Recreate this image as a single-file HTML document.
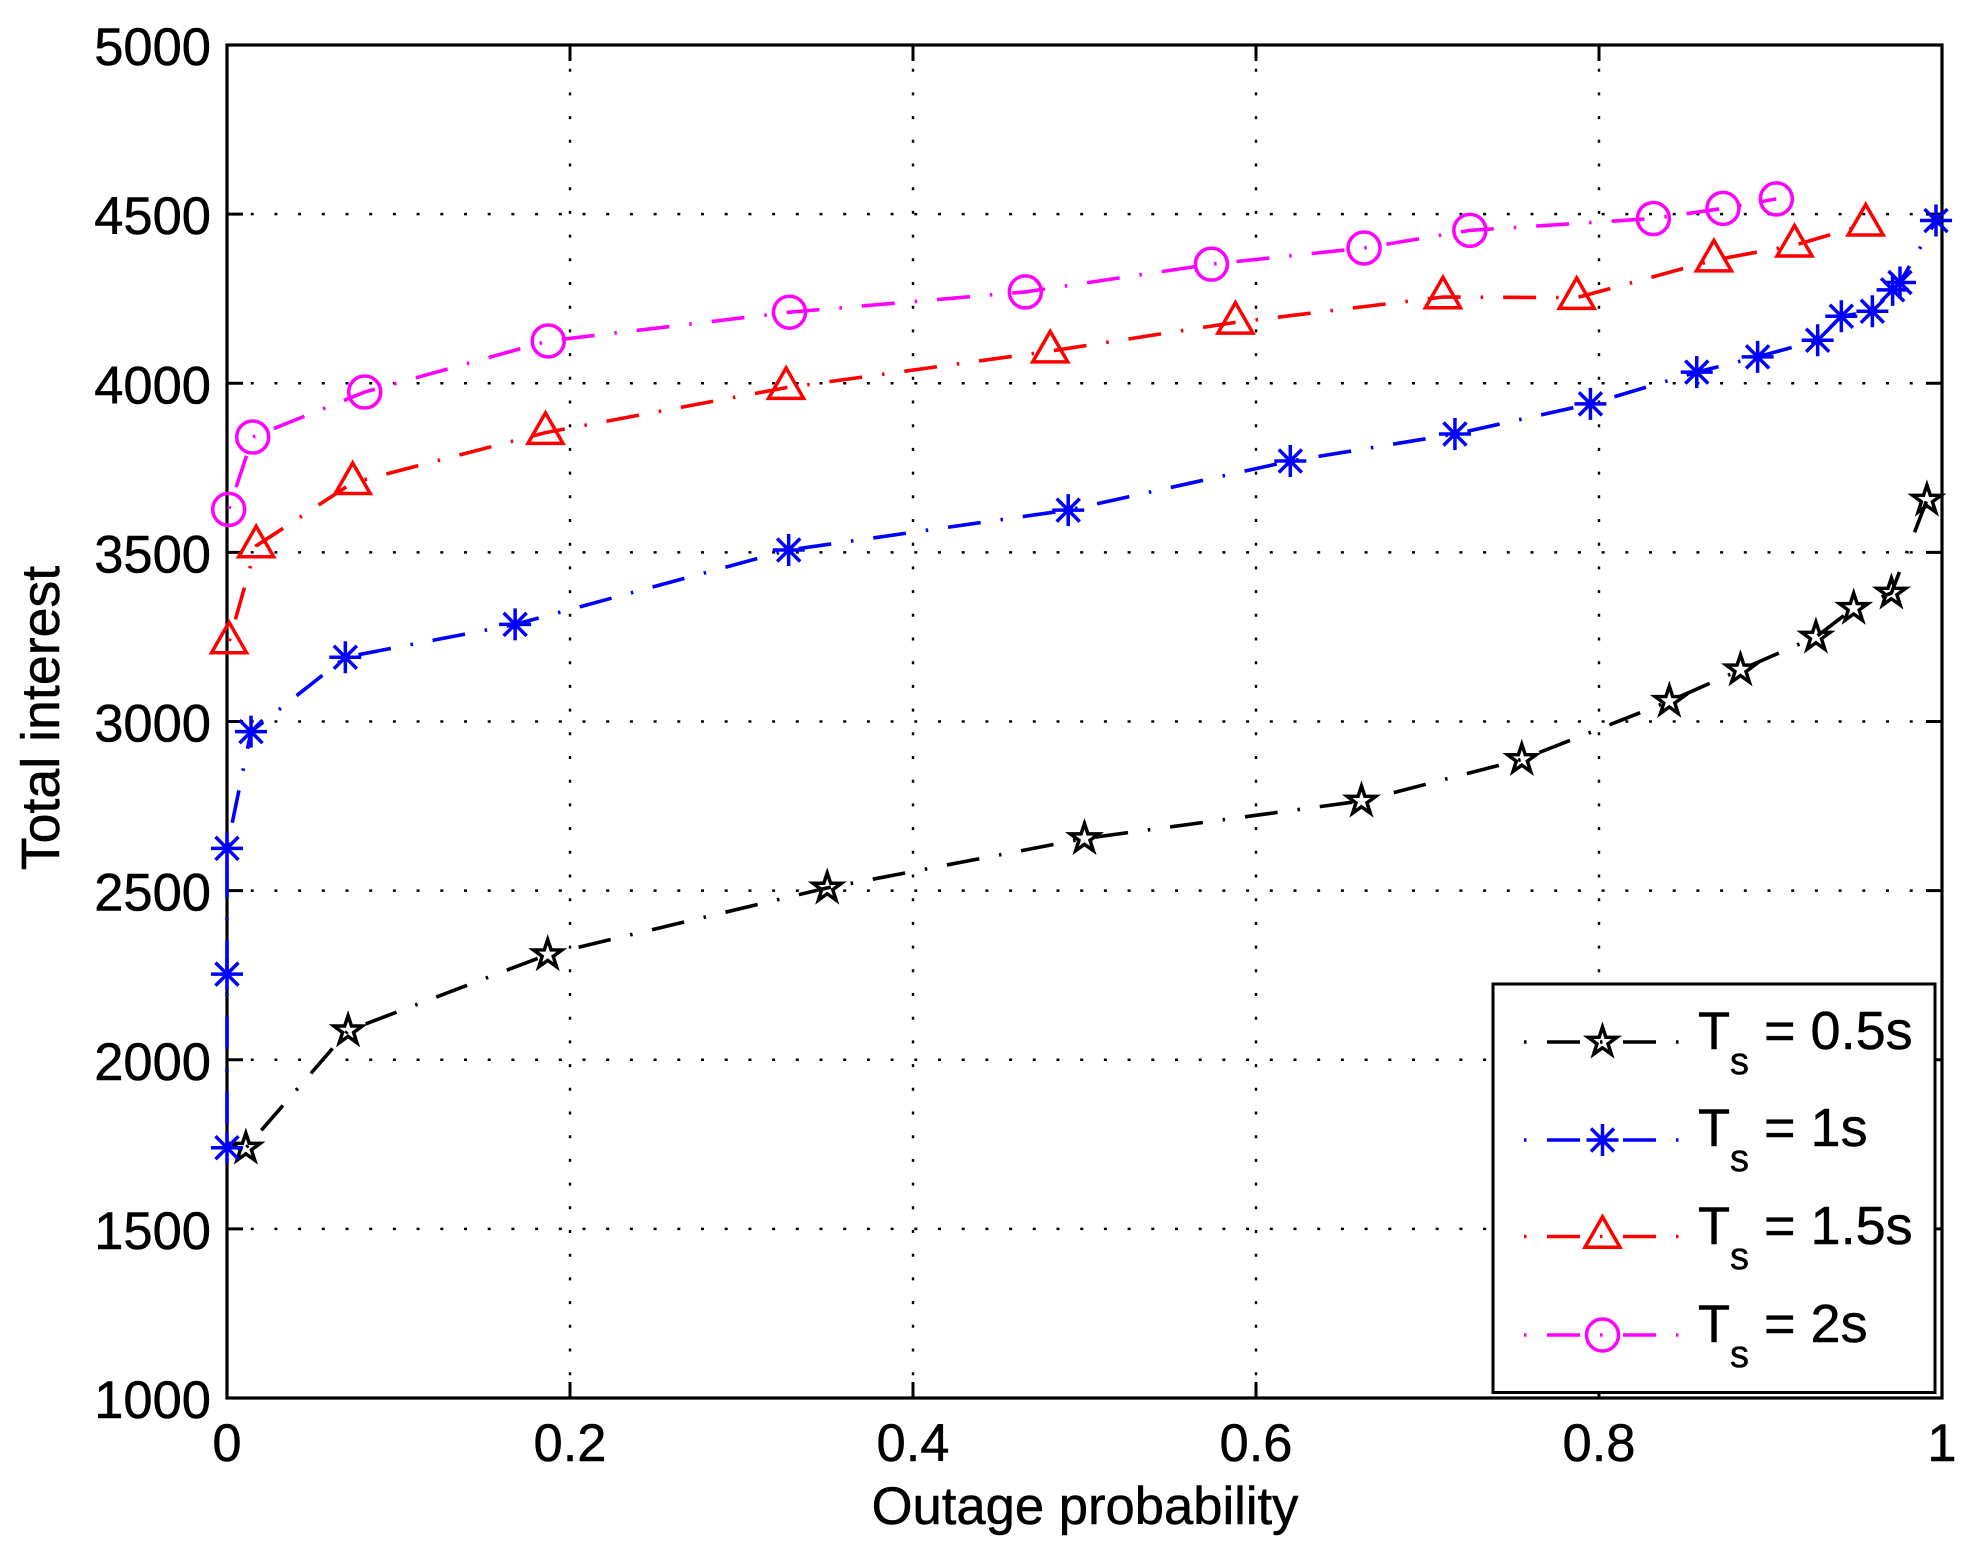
<!DOCTYPE html>
<html>
<head>
<meta charset="utf-8">
<title>Total interest vs outage probability</title>
<style>
html,body{margin:0;padding:0;background:#fff;}
svg{display:block;}
text{font-family:"Liberation Sans",sans-serif;fill:#000;stroke:#000;stroke-width:0.5px;}
</style>
</head>
<body>
<svg id="chart" xmlns="http://www.w3.org/2000/svg" width="1975" height="1553" viewBox="0 0 1975 1553">
<rect x="0" y="0" width="1975" height="1553" fill="#fff"/>
<g id="grid"></g>
<g id="axes"></g>
<g id="series"></g>
<text x="1085" y="1524" font-size="52.6" text-anchor="middle">Outage probability</text>
<text transform="translate(59,718) rotate(-90)" font-size="53.7" text-anchor="middle">Total interest</text>
<g id="legend"></g>
</svg>
<script>
var xTickValues = [0, 0.2, 0.4, 0.6, 0.8, 1];
var xTickLabels = ['0', '0.2', '0.4', '0.6', '0.8', '1'];
var yTickValues = [1000, 1500, 2000, 2500, 3000, 3500, 4000, 4500, 5000];
var yTickLabels = ['1000', '1500', '2000', '2500', '3000', '3500', '4000', '4500', '5000'];

var ts05X = [0.011, 0.0706, 0.187, 0.350, 0.500, 0.6615, 0.755, 0.841, 0.8825, 0.9265, 0.9485, 0.9705, 0.9912];
var ts05Y = [1739, 2086, 2311, 2508, 2654, 2765, 2888, 3060, 3153, 3250, 3335, 3380, 3655];
var ts1X = [0, 0, 0, 0.014, 0.069, 0.168, 0.3275, 0.4905, 0.62, 0.716, 0.795, 0.857, 0.8925, 0.9275, 0.9413, 0.9594, 0.9712, 0.9755, 0.9965];
var ts1Y = [1740, 2253, 2625, 2970, 3190, 3287, 3507, 3625, 3770, 3850, 3939, 4033, 4078, 4127, 4198, 4213, 4276, 4298, 4481];
var ts15X = [0.0012, 0.017, 0.0733, 0.1857, 0.326, 0.48, 0.588, 0.709, 0.787, 0.867, 0.914, 0.9555];
var ts15Y = [3235, 3519, 3706, 3854, 3987, 4095, 4180, 4255, 4253, 4364, 4408, 4470];
var ts2X = [0.001, 0.015, 0.0803, 0.1873, 0.328, 0.4655, 0.574, 0.663, 0.7247, 0.8317, 0.8723, 0.9034];
var ts2Y = [3627, 3841, 3974, 4125, 4210, 4270, 4352, 4400, 4452, 4487, 4517, 4545];

var legendLabels = ['= 0.5s', '= 1s', '= 1.5s', '= 2s'];

var NS = 'http://www.w3.org/2000/svg';
var plotLeft = 227, plotRight = 1942, plotTop = 45, plotBottom = 1398;
var xMin = 0, xMax = 1, yMin = 1000, yMax = 5000;
function sx(v) { return plotLeft + (v - xMin) / (xMax - xMin) * (plotRight - plotLeft); }
function sy(v) { return plotBottom - (v - yMin) / (yMax - yMin) * (plotBottom - plotTop); }

function make(tag, attrs, parent) {
  var el = document.createElementNS(NS, tag);
  for (var k in attrs) { el.setAttribute(k, attrs[k]); }
  parent.appendChild(el);
  return el;
}

var gridG = document.getElementById('grid');
var axesG = document.getElementById('axes');
var seriesG = document.getElementById('series');
var legendG = document.getElementById('legend');
var el;

xTickValues.forEach(function (v, i) {
  var x = sx(v);
  if (i > 0 && i < xTickValues.length - 1) {
    el = make('line', { x1: x, x2: x, y1: plotTop, y2: plotBottom, stroke: '#000', 'stroke-width': 2.4, 'stroke-dasharray': '3 20.7', 'stroke-dashoffset': 0 }, gridG);
    
    
    el = make('line', { x1: x, x2: x, y1: plotBottom, y2: plotBottom - 16, stroke: '#000', 'stroke-width': 3 }, axesG);
    
    
    el = make('line', { x1: x, x2: x, y1: plotTop, y2: plotTop + 16, stroke: '#000', 'stroke-width': 3 }, axesG);
    
    
  }
  el = make('text', { x: x, y: 1461, 'font-size': 52.5, 'text-anchor': 'middle' }, axesG);
  el.textContent = xTickLabels[i];
  
  
});

yTickValues.forEach(function (v, i) {
  var y = sy(v);
  if (i > 0 && i < yTickValues.length - 1) {
    el = make('line', { x1: plotLeft, x2: plotRight, y1: y, y2: y, stroke: '#000', 'stroke-width': 2.4, 'stroke-dasharray': '3 20.7' }, gridG);
    
    
    el = make('line', { x1: plotLeft, x2: plotLeft + 16, y1: y, y2: y, stroke: '#000', 'stroke-width': 3 }, axesG);
    
    
    el = make('line', { x1: plotRight, x2: plotRight - 16, y1: y, y2: y, stroke: '#000', 'stroke-width': 3 }, axesG);
    
    
  }
  el = make('text', { x: 211, y: y + 20, 'font-size': 52.5, 'text-anchor': 'end' }, axesG);
  el.textContent = yTickLabels[i];
  
  
});

el = make('rect', { x: plotLeft, y: plotTop, width: plotRight - plotLeft, height: plotBottom - plotTop, fill: 'none', stroke: '#000', 'stroke-width': 3.2 }, axesG);



function starPath(cx, cy) {
  var R = 15, r = 5.8, d = '';
  for (var i = 0; i < 10; i++) {
    var a = -Math.PI / 2 + i * Math.PI / 5;
    var q = i % 2 ? r : R;
    d += (i ? 'L' : 'M') + (cx + q * Math.cos(a)) + ' ' + (cy + q * Math.sin(a));
  }
  return d + 'Z';
}
function asteriskPath(cx, cy) {
  var h = 16, k = 11.5;
  return 'M' + (cx - h) + ' ' + cy + 'L' + (cx + h) + ' ' + cy +
    'M' + cx + ' ' + (cy - h) + 'L' + cx + ' ' + (cy + h) +
    'M' + (cx - k) + ' ' + (cy - k) + 'L' + (cx + k) + ' ' + (cy + k) +
    'M' + (cx - k) + ' ' + (cy + k) + 'L' + (cx + k) + ' ' + (cy - k);
}
function trianglePath(cx, cy) {
  return 'M' + cx + ' ' + (cy - 19.75) + 'L' + (cx + 17.5) + ' ' + (cy + 10.75) + 'L' + (cx - 17.5) + ' ' + (cy + 10.75) + 'Z';
}
function drawMarker(kind, cx, cy, color, parent, name) {
  var m;
  if (kind === 'circle') {
    m = make('circle', { cx: cx, cy: cy, r: 16, fill: 'none', stroke: color, 'stroke-width': 3.5 }, parent);
  } else {
    var d = kind === 'star' ? starPath(cx, cy) : kind === 'asterisk' ? asteriskPath(cx, cy) : trianglePath(cx, cy);
    m = make('path', { d: d, fill: 'none', stroke: color, 'stroke-width': 3.5, 'stroke-miterlimit': 10 }, parent);
  }
  
  
}
function drawSeries(xs, ys, color, kind, name, offset) {
  var g = make('g', {}, seriesG);
  
  
  var d = '';
  xs.forEach(function (v, i) { d += (i ? 'L' : 'M') + sx(v) + ' ' + sy(ys[i]); });
  var p = make('path', { d: d, fill: 'none', stroke: color, 'stroke-width': 3.6, 'stroke-dasharray': '33 20 2.5 20', 'stroke-dashoffset': offset }, g);
  
  
  xs.forEach(function (v, i) {
    drawMarker(kind, sx(v), sy(ys[i]), color, g, name + '-marker');
  });
}
drawSeries(ts05X, ts05Y, '#000000', 'star', 'series-ts-0-5s', 52);
drawSeries(ts1X, ts1Y, '#0000ff', 'asterisk', 'series-ts-1s', 52);
drawSeries(ts15X, ts15Y, '#ff0000', 'triangle', 'series-ts-1-5s', 52);
drawSeries(ts2X, ts2Y, '#ff00ff', 'circle', 'series-ts-2s', 52);

el = make('rect', { x: 1493, y: 984, width: 442, height: 408.5, fill: '#fff', stroke: '#000', 'stroke-width': 3 }, legendG);



var legendColors = ['#000000', '#0000ff', '#ff0000', '#ff00ff'];
var legendKinds = ['star', 'asterisk', 'triangle', 'circle'];
var legendLineY = [1042, 1140, 1236.5, 1335];
var legendBase = [1049, 1146, 1244, 1342];
legendLabels.forEach(function (label, i) {
  var g = make('g', {}, legendG);
  
  
  var ln = make('line', { x1: 1524, x2: 1679, y1: legendLineY[i], y2: legendLineY[i], stroke: legendColors[i], 'stroke-width': 3.6, 'stroke-dasharray': '2.5 20.5 33 20' }, g);
  
  
  drawMarker(legendKinds[i], 1602.5, legendLineY[i], legendColors[i], g, 'legend-marker');
  var t = make('text', { x: 1698, y: legendBase[i], 'font-size': 52.5 }, g);
  t.textContent = 'T';
  
  
  var s = make('text', { x: 1730, y: legendBase[i] + 25, 'font-size': 38 }, g);
  s.textContent = 's';
  
  
  var v = make('text', { x: 1764, y: legendBase[i], 'font-size': 54 }, g);
  v.textContent = label;
  
  
});
</script>
</body>
</html>
